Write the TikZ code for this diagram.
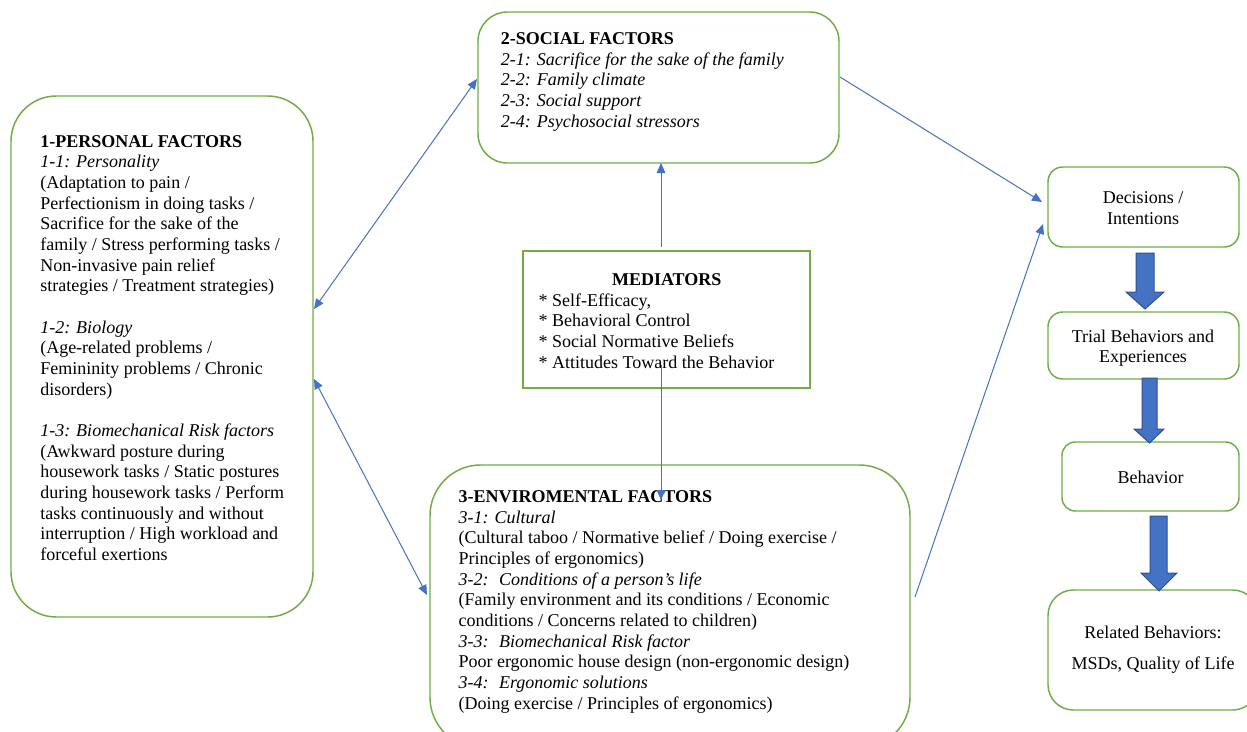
\documentclass[tikz,border=0pt]{standalone}
\usepackage{fontspec}
\setmainfont{Liberation Serif}
\usetikzlibrary{fit,arrows.meta}
\definecolor{gr}{HTML}{70AD47}
\definecolor{bl}{HTML}{4472C4}
\definecolor{bld}{HTML}{2F528F}
\begin{document}
\begin{tikzpicture}[x=0.75pt,y=-0.75pt,
  box/.style={draw=gr, line width=1.1pt, inner sep=0pt},
  txt/.style={anchor=north west, inner sep=0pt, align=left, font=\fontsize{13.5}{15.5}\selectfont},
  ctr/.style={inner sep=0pt, align=center, font=\fontsize{13.5}{15.5}\selectfont},
  thin/.style={draw=bl, line width=0.75pt},
  tip/.style={-{Triangle[length=7.5pt,width=6.5pt]}},
  both/.style={{Triangle[length=7.5pt,width=6.5pt]}-{Triangle[length=7.5pt,width=6.5pt]}},
  blk/.style={fill=bl, draw=bld, line width=0.75pt}]
\clip (0,0) rectangle (1247,732);
\fill[white] (0,0) rectangle (1247,732);

% main boxes
\node[box, rounded corners=34pt, fit={(11,96)(313,617)}] (p) {};
\node[box, rounded corners=22pt, fit={(478,12)(839,163)}] (s) {};
\node[box, fit={(523,251)(810,388)}] (m) {};
\node[box, rounded corners=38pt, fit={(430,465)(910,748)}] (e) {};

\node[txt] (pt) at (40,131) {\rule{0pt}{12pt}\textbf{1-PERSONAL FACTORS}\\
\textit{1-1: Personality}\\
(Adaptation to pain /\\
Perfectionism in doing tasks /\\
Sacrifice for the sake of the\\
family / Stress performing tasks /\\
Non-invasive pain relief\\
strategies / Treatment strategies)\\[15.5pt]
\textit{1-2: Biology}\\
(Age-related problems /\\
Femininity problems / Chronic\\
disorders)\\[15.5pt]
\textit{1-3: Biomechanical Risk factors}\\
(Awkward posture during\\
housework tasks / Static postures\\
during housework tasks / Perform\\
tasks continuously and without\\
interruption / High workload and\\
forceful exertions};

\node[txt] (st) at (500.7,28.3) {\rule{0pt}{12pt}\textbf{2-SOCIAL FACTORS}\\
\textit{2-1: Sacrifice for the sake of the family}\\
\textit{2-2: Family climate}\\
\textit{2-3: Social support}\\
\textit{2-4: Psychosocial stressors}};

\node[ctr, anchor=base] (mt) at (666.7,285.5) {\textbf{MEDIATORS}};
\node[txt] (ml) at (538.3,290) {\rule{0pt}{12pt}* Self-Efficacy,\\
* Behavioral Control\\
* Social Normative Beliefs\\
* Attitudes Toward the Behavior};

\node[txt] (et) at (458.3,486.3) {\rule{0pt}{12pt}\textbf{3-ENVIROMENTAL FACTORS}\\
\textit{3-1: Cultural}\\
(Cultural taboo / Normative belief / Doing exercise /\\
Principles of ergonomics)\\
\textit{3-2: \ Conditions of a person’s life}\\
(Family environment and its conditions / Economic\\
conditions / Concerns related to children)\\
\textit{3-3: \ Biomechanical Risk factor}\\
Poor ergonomic house design (non-ergonomic design)\\
\textit{3-4: \ Ergonomic solutions}\\
(Doing exercise / Principles of ergonomics)};

% right column
\node[box, rounded corners=11pt, fit={(1048,167)(1239,247)}] (d) {};
\node[ctr] (dt) at (1143,208) {Decisions /\\ Intentions};
\node[box, rounded corners=11pt, fit={(1048,312)(1239,379)}] (t) {};
\node[ctr] (tt) at (1143,348) {Trial Behaviors and\\ Experiences};
\node[box, rounded corners=10pt, fit={(1062,442)(1239,511)}] (b) {};
\node[ctr] (bt) at (1150.5,477.5) {Behavior};
\node[box, rounded corners=19pt, fit={(1048,590)(1258,710)}] (r) {};
\node[ctr] (rt) at (1153,650) {Related Behaviors:\\[7.7pt] MSDs, Quality of Life};

% block arrows
\draw[blk] (1136,253) -- (1154,253) -- (1154,292) -- (1164,292) -- (1145,309) -- (1126,292) -- (1136,292) -- cycle;
\draw[blk] (1142,378) -- (1157,378) -- (1157,429) -- (1164,429) -- (1149.5,443) -- (1134,429) -- (1142,429) -- cycle;
\draw[blk] (1150,516) -- (1167,516) -- (1167,573) -- (1177,573) -- (1159,591) -- (1141,573) -- (1150,573) -- cycle;

% thin connectors
\coordinate (p1) at (314,309);
\coordinate (s1) at (477,79);
\coordinate (p2) at (314,379);
\coordinate (e1) at (427,595);
\coordinate (m1) at (661,247);
\coordinate (s2) at (661,163);
\coordinate (m2) at (661,365);
\coordinate (e2) at (661,500);
\coordinate (s3) at (840,77);
\coordinate (d1) at (1042,202);
\coordinate (e3) at (915,597);
\coordinate (d2) at (1043,224);
\draw[thin,both] (p1) -- (s1);
\draw[thin,both] (p2) -- (e1);
\draw[thin,tip] (m1) -- (s2);
\draw[thin,tip] (m2) -- (e2);
\draw[thin,tip] (s3) -- (d1);
\draw[thin,tip] (e3) -- (d2);
\end{tikzpicture}
\end{document}
